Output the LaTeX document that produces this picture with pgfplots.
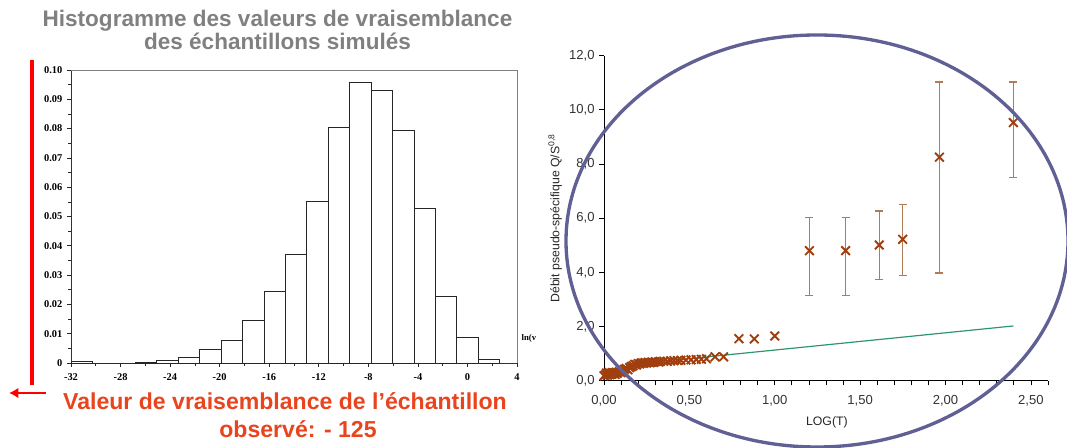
\documentclass[border=0pt]{standalone}
\usepackage{pgfplots}
\pgfplotsset{compat=1.18}
\usetikzlibrary{arrows.meta}
\usepackage{fontspec}
\setmainfont{Liberation Sans}
\newfontfamily\timesfont{Liberation Serif}

\definecolor{titlegray}{RGB}{128,128,128}
\definecolor{noteorange}{RGB}{232,68,30}
\definecolor{markbrown}{RGB}{160,62,14}
\definecolor{barbrown}{RGB}{178,122,86}
\definecolor{linegreen}{RGB}{46,150,110}
\definecolor{ringblue}{RGB}{96,96,148}

\begin{document}
\begin{tikzpicture}[x=0.75pt,y=0.75pt]
\useasboundingbox (0,0) rectangle (1067,448);

% titre et commentaire de gauche
\node[anchor=base, text=titlegray, font=\fontsize{16.9}{19}\selectfont\bfseries] at (277.5,421) {Histogramme des valeurs de vraisemblance};
\node[anchor=base, text=titlegray, font=\fontsize{16.9}{19}\selectfont\bfseries] at (277.5,398) {des échantillons simulés};
\node[anchor=base, text=noteorange, font=\fontsize{17.3}{19}\selectfont\bfseries] at (285,38) {Valeur de vraisemblance de l’échantillon};
\node[anchor=base, text=noteorange, font=\fontsize{17.3}{19}\selectfont\bfseries] at (298,10) {observé: - 125};

\draw[red, line width=3pt] (31.5,388) -- (31.5,63);
\draw[red, line width=2.2pt, -{Latex[length=7pt,width=8pt]}] (46,55) -- (9,55);

% histogramme
\begin{axis}[
  at={(53.25pt,63.75pt)}, anchor=south west,
  scale only axis, width=334.5pt, height=219.75pt,
  xmin=-32, xmax=4, ymin=0, ymax=0.1,
  axis lines*=left,
  axis line style={black!80, line width=0.6pt},
  tick align=outside,
  major tick length=3pt, minor tick length=2pt,
  tick style={black!85, line width=0.5pt},
  xtick={-32,-28,-24,-20,-16,-12,-8,-4,0,4},
  xticklabels={-32,-28,-24,-20,-16,-12,-8,-4,0,4},
  minor xtick={-30,-26,-22,-18,-14,-10,-6,-2,2},
  ytick={0,0.01,0.02,0.03,0.04,0.05,0.06,0.07,0.08,0.09,0.1},
  yticklabels={0,0.01,0.02,0.03,0.04,0.05,0.06,0.07,0.08,0.09,0.10},
  minor ytick={0.005,0.015,0.025,0.035,0.045,0.055,0.065,0.075,0.085,0.095},
  ticklabel style={font=\timesfont\bfseries\fontsize{7.8}{8}\selectfont},
  xticklabel style={yshift=-1.5pt},
  clip=false,
]
\addplot[ybar interval, fill=white, draw=black!85, line width=0.5pt] coordinates {
  (-32.00,0.0004) (-30.27,0) (-28.54,0) (-26.81,0.0003) (-25.08,0.0008)
  (-23.35,0.0020) (-21.62,0.0045) (-19.89,0.0078) (-18.16,0.0147)
  (-16.43,0.0244) (-14.70,0.0372) (-12.97,0.0552) (-11.24,0.0803)
  (-9.51,0.0958) (-7.78,0.0929) (-6.05,0.0794) (-4.32,0.0528)
  (-2.59,0.0227) (-0.86,0.0088) (0.87,0.0012) (2.60,0.0012)
};
\draw[gray, line width=0.5pt] (rel axis cs:0,1) -- (rel axis cs:1,1) -- (rel axis cs:1,0);
\node[anchor=west, font=\timesfont\bfseries\fontsize{6.5}{7}\selectfont] at (rel axis cs:1,0.085) {ln(v};
\end{axis}

% débit pseudo-spécifique
\begin{axis}[
  at={(453pt,50.5pt)}, anchor=south west,
  scale only axis, width=333pt, height=243.75pt,
  xmin=0, xmax=2.6, ymin=0, ymax=12,
  axis lines*=left,
  axis line style={black, line width=0.6pt},
  tick align=outside,
  major tick length=3.5pt, minor tick length=3.5pt,
  tick style={black, line width=0.6pt},
  xtick={0,0.5,1,1.5,2,2.5},
  xticklabels={{0,00},{0,50},{1,00},{1,50},{2,00},{2,50}},
  minor xtick={0.1,0.2,0.3,0.4,0.6,0.7,0.8,0.9,1.1,1.2,1.3,1.4,1.6,1.7,1.8,1.9,2.1,2.2,2.3,2.4,2.6},
  ytick={0,2,4,6,8,10,12},
  yticklabels={{0,0},{2,0},{4,0},{6,0},{8,0},{10,0},{12,0}},
  ticklabel style={font=\fontsize{9.8}{11}\selectfont, text=black!80},
  xticklabel style={yshift=-4pt},
  xlabel={LOG(T)},
  ylabel={Débit pseudo-spécifique Q/S\textsuperscript{0,8}},
  label style={font=\fontsize{9.2}{11}\selectfont, text=black!85},
  xlabel style={at={(axis description cs:0.502,-0.127)}, anchor=center},
  ylabel style={at={(axis description cs:-0.11,0.5)}, anchor=center},
  clip=false,
]
\addplot[linegreen, line width=0.9pt] coordinates {(0.45,0.78) (2.397,2.02)};
\addplot[only marks, mark=x, mark size=4.6pt, markbrown, line width=1.4pt] coordinates {
  (0.000,0.18) (0.010,0.22) (0.015,0.28) (0.020,0.20) (0.025,0.25)
  (0.030,0.30) (0.035,0.22) (0.040,0.27) (0.045,0.24) (0.050,0.30)
  (0.055,0.26) (0.060,0.28) (0.065,0.23) (0.070,0.31) (0.075,0.27)
  (0.080,0.30) (0.090,0.33) (0.100,0.30) (0.110,0.38) (0.120,0.42)
  (0.130,0.45) (0.140,0.40) (0.150,0.48) (0.160,0.52) (0.170,0.55)
  (0.180,0.60) (0.190,0.58) (0.200,0.63) (0.210,0.62) (0.220,0.66)
  (0.230,0.64) (0.240,0.67) (0.250,0.65) (0.260,0.68) (0.270,0.66)
  (0.280,0.69) (0.290,0.67) (0.300,0.70) (0.320,0.69) (0.330,0.71)
  (0.350,0.72) (0.370,0.71) (0.390,0.73) (0.410,0.74) (0.430,0.74)
  (0.450,0.75) (0.480,0.76) (0.510,0.77) (0.540,0.78) (0.570,0.79)
  (0.600,0.81) (0.650,0.88) (0.700,0.88)
  (0.790,1.55) (0.880,1.54) (1.000,1.65)
};
\addplot[only marks, mark=x, mark size=4.6pt, markbrown, line width=1.4pt,
  error bars/.cd, y dir=both, y explicit,
  error bar style={barbrown, line width=1.1pt},
  error mark options={barbrown, line width=1.1pt, rotate=90, mark size=3pt}]
  coordinates {
  (1.203,4.80) += (0,1.22) -= (0,1.66)
  (1.415,4.80) += (0,1.22) -= (0,1.66)
  (1.612,5.01) += (0,1.26) -= (0,1.27)
  (1.749,5.22) += (0,1.28) -= (0,1.34)
  (1.964,8.25) += (0,2.77) -= (0,4.28)
  (2.397,9.53) += (0,1.49) -= (0,2.03)
};
\end{axis}

% ellipse de mise en valeur
\begin{scope}
\clip (0,0) rectangle (1067,448);
\draw[ringblue, line width=2.5pt] (817,207) ellipse [x radius=251, y radius=206];
\end{scope}
\end{tikzpicture}
\end{document}
